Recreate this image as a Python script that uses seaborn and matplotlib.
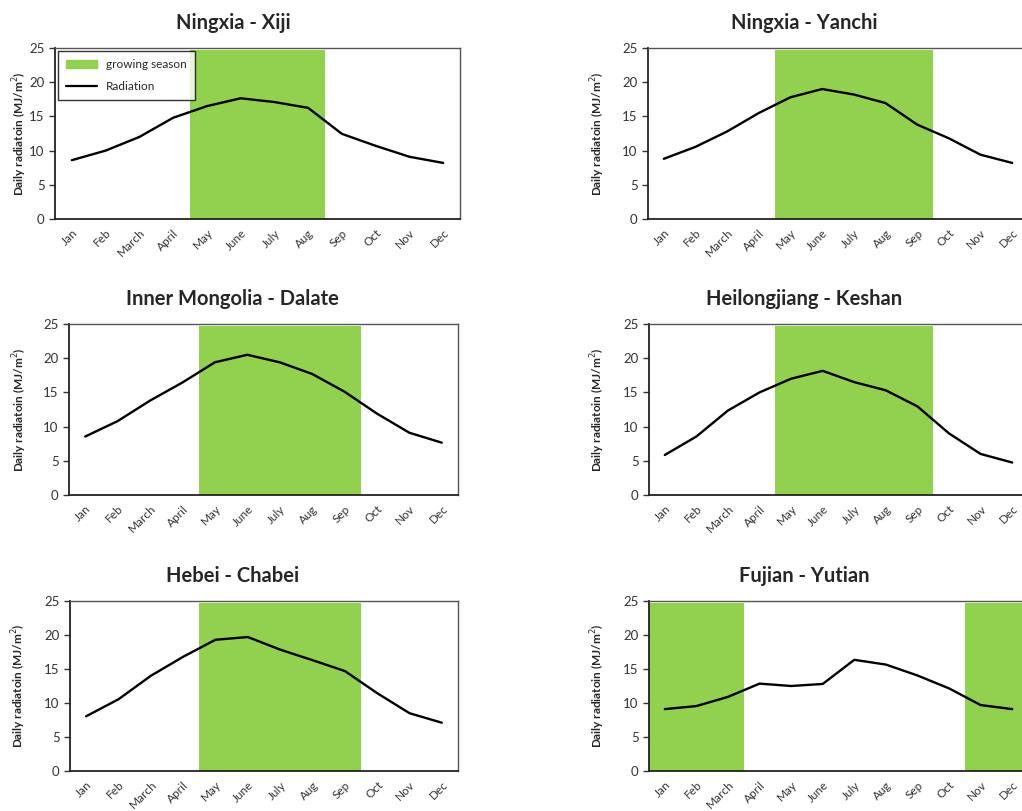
import numpy as np
import pandas as pd
import matplotlib
matplotlib.use("Agg")
import matplotlib.pyplot as plt
import seaborn as sns
from matplotlib.patches import Patch
from matplotlib.lines import Line2D

sns.set_style("white")
plt.rcParams["font.family"] = ["Lato", "DejaVu Sans"]

months = ["Jan", "Feb", "March", "April", "May", "June",
          "July", "Aug", "Sep", "Oct", "Nov", "Dec"]

titles = ["Ningxia - Xiji", "Ningxia - Yanchi", "Inner Mongolia - Dalate",
          "Heilongjiang - Keshan", "Hebei - Chabei", "Fujian - Yutian"]

xiji = [8.6, 10.0, 12.0, 14.8, 16.5, 17.65, 17.1, 16.25, 12.45, 10.7, 9.1, 8.2]
yanchi = [8.8, 10.55, 12.8, 15.5, 17.8, 19.0, 18.2, 16.95, 13.8, 11.8, 9.4, 8.2]
dalate = [8.55, 10.8, 13.8, 16.45, 19.4, 20.5, 19.4, 17.7, 15.1, 11.9, 9.1, 7.65]
keshan = [5.85, 8.55, 12.35, 15.0, 17.0, 18.15, 16.5, 15.3, 12.95, 9.0, 6.0, 4.75]
chabei = [8.05, 10.55, 14.0, 16.8, 19.3, 19.7, 17.85, 16.3, 14.7, 11.45, 8.5, 7.1]
yutian = [9.1, 9.55, 10.9, 12.85, 12.5, 12.8, 16.35, 15.65, 14.05, 12.15, 9.7, 9.1]

# growing season as (first month, last month) pairs
seasons = [
    [("May", "Aug")],
    [("May", "Sep")],
    [("May", "Sep")],
    [("May", "Sep")],
    [("May", "Sep")],
    [("Jan", "March"), ("Nov", "Dec")],
]

series = [xiji, yanchi, dalate, keshan, chabei, yutian]

GREEN = "#92D050"
W, H = 1022, 811
# axes boxes in pixels: left, right, top, bottom
boxes = [(55, 460, 48, 219), (648, 1028, 48, 219),
         (69, 458, 324, 495), (649, 1028, 324, 495),
         (70, 458, 601, 771), (649, 1028, 601, 771)]
title_x = [0.44, 0.41, 0.42, 0.41, 0.42, 0.41]
ylab_off = [26, 41, 40, 42, 42, 42]

fig = plt.figure(figsize=(W / 100, H / 100), dpi=100)

for i, (name, vals, spans, box) in enumerate(zip(titles, series, seasons, boxes)):
    l, r, t, b = box
    ax = fig.add_axes([l / W, 1 - b / H, (r - l) / W, (b - t) / H])
    df = pd.DataFrame({"x": np.arange(len(months)), "radiation": vals})

    for s, e in spans:
        ax.axvspan(months.index(s) - 0.5, months.index(e) + 0.5,
                   ymin=0, ymax=24.7 / 25, color=GREEN, lw=0, zorder=1)

    sns.lineplot(data=df, x="x", y="radiation", color="black", lw=1.7, ax=ax, zorder=3)

    ax.set_xlim(-0.5, 11.5)
    ax.set_ylim(0, 25)
    ax.set_yticks(range(0, 26, 5))
    ax.set_xticks(range(len(months)))
    ax.set_xticklabels(months, rotation=45, fontsize=8.5, color="#333333",
                       ha="right", rotation_mode="anchor")
    ax.tick_params(axis="y", labelsize=9.5, colors="#333333", length=4, width=1,
                   left=True, direction="out")
    ax.tick_params(axis="x", length=0, pad=6)
    ax.set_xlabel("")
    ax.set_ylabel("Daily radiatoin (MJ/m$^2$)", fontsize=8.5, fontweight="bold")
    ax.yaxis.set_label_coords(-ylab_off[i] / (r - l), 0.5)
    ax.set_title(name, fontsize=14.5, fontweight="bold", x=title_x[i], pad=14)

    for side in ["left", "bottom"]:
        ax.spines[side].set_color("#222222")
        ax.spines[side].set_linewidth(1.3)
    for side in ["top", "right"]:
        ax.spines[side].set_color("#555555")
        ax.spines[side].set_linewidth(1.0)

    if i == 0:
        handles = [Patch(facecolor=GREEN, edgecolor=GREEN),
                   Line2D([0], [0], color="black", lw=1.6)]
        leg = ax.legend(handles, ["growing season", "Radiation"], loc="upper left",
                        fontsize=8.5, frameon=True, fancybox=False,
                        bbox_to_anchor=(0.0, 1.0), borderaxespad=0.25, borderpad=0.7,
                        labelspacing=0.9, handlelength=2.6)
        leg.get_frame().set_edgecolor("black")
        leg.get_frame().set_linewidth(1.0)

fig.savefig("out.png", dpi=100)
